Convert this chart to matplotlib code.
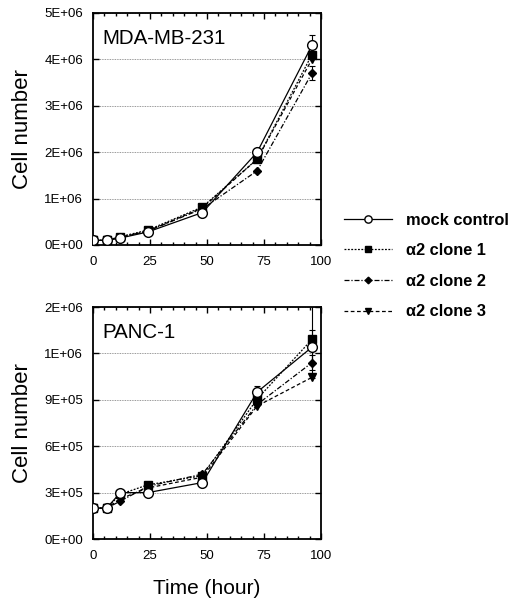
import numpy as np
import matplotlib
matplotlib.use("Agg")
import matplotlib.pyplot as plt
from matplotlib.ticker import MultipleLocator

plt.rcParams["font.family"] = ["Liberation Sans", "DejaVu Sans"]

# ---- data ----
hours = [0, 6, 12, 24, 48, 72, 96]

series_labels = ["mock control", "α2 clone 1", "α2 clone 2", "α2 clone 3"]

# MDA-MB-231 (cells)
mda_mock   = [1.0e5, 1.0e5, 1.5e5, 2.8e5, 7.0e5, 2.00e6, 4.30e6]
mda_clone1 = [1.0e5, 1.0e5, 1.8e5, 3.2e5, 8.2e5, 1.85e6, 4.10e6]
mda_clone2 = [1.0e5, 1.0e5, 1.7e5, 3.0e5, 7.8e5, 1.60e6, 3.70e6]
mda_clone3 = [1.0e5, 1.0e5, 1.6e5, 3.0e5, 8.0e5, 1.85e6, 4.00e6]
mda_mock_err   = [0, 0, 0, 0, 0, 0, 2.2e5]
mda_clone2_err = [0, 0, 0, 0, 0, 0, 1.5e5]

# PANC-1 (cells)
panc_mock   = [2.0e5, 2.0e5, 3.0e5, 3.0e5, 3.65e5, 9.5e5, 1.24e6]
panc_clone1 = [2.0e5, 2.0e5, 2.9e5, 3.5e5, 4.1e5, 9.05e5, 1.29e6]
panc_clone2 = [2.0e5, 2.0e5, 2.45e5, 3.4e5, 4.2e5, 8.7e5, 1.14e6]
panc_clone3 = [2.0e5, 2.0e5, 2.6e5, 3.3e5, 4.0e5, 8.6e5, 1.045e6]
panc_mock_err   = [0, 0, 0, 0, 0, 4.0e4, 1.1e5]
panc_clone1_err = [0, 0, 0, 0, 0, 0, 2.5e5]
panc_clone2_err = [0, 0, 0, 0, 0, 0, 5.0e4]

mda_yticks = [0, 1e6, 2e6, 3e6, 4e6, 5e6]
mda_yticklabels = ["0E+00", "1E+06", "2E+06", "3E+06", "4E+06", "5E+06"]
panc_yticks = [0, 3e5, 6e5, 9e5, 1.2e6, 1.5e6]
panc_yticklabels = ["0E+00", "3E+05", "6E+05", "9E+05", "1E+06", "2E+06"]
xticks = [0, 25, 50, 75, 100]
# --------------

styles = [
    dict(ls="-",  marker="o", mfc="white", ms=7, zorder=5),
    dict(ls=(0, (1.5, 1.2)), marker="s", mfc="black", ms=6, zorder=4),
    dict(ls=(0, (4, 1.5, 1, 1.5)), marker="D", mfc="black", ms=4.5, zorder=3),
    dict(ls=(0, (3, 2)), marker="v", mfc="black", ms=6, zorder=3),
]

fig = plt.figure(figsize=(5.15, 6.07), dpi=100)
ax_top = fig.add_axes([0.1806, 0.5964, 0.4427, 0.3822])
ax_bot = fig.add_axes([0.1806, 0.1120, 0.4427, 0.3822])


def draw_panel(ax, data, errs, yticks, yticklabels, title):
    # draw clones first so mock circles sit on top
    order = [1, 2, 3, 0]
    handles = {}
    for i in order:
        st = styles[i]
        line, = ax.plot(hours, data[i], color="black", lw=0.9, ls=st["ls"],
                        marker=st["marker"], mfc=st["mfc"], mec="black",
                        mew=1.0, ms=st["ms"], zorder=st["zorder"],
                        label=series_labels[i])
        handles[i] = line
        if errs[i] is not None:
            ax.errorbar(hours, data[i], yerr=errs[i], fmt="none", ecolor="black",
                        elinewidth=0.8, capsize=2.5, capthick=0.8, zorder=2)
    ax.set_xlim(0, 100)
    ax.set_ylim(yticks[0], yticks[-1])
    ax.set_xticks(xticks)
    ax.xaxis.set_minor_locator(MultipleLocator(5))
    ax.set_yticks(yticks)
    ax.set_yticklabels(yticklabels)
    ax.grid(axis="y", which="major", color="#777777", ls=(0, (1, 1)), lw=0.6)
    ax.set_axisbelow(True)
    ax.tick_params(which="both", direction="in", top=True, right=True,
                   labelsize=9.5, width=1.0)
    ax.tick_params(axis="y", pad=7)
    ax.tick_params(axis="x", pad=8)
    ax.tick_params(which="major", length=4)
    ax.tick_params(which="minor", length=2.5)
    for s in ax.spines.values():
        s.set_linewidth(1.3)
    ax.set_ylabel("Cell number", fontsize=16, labelpad=8)
    ax.text(0.04, 0.93, title, transform=ax.transAxes, fontsize=14.8,
            va="top", ha="left")
    return [handles[i] for i in range(4)]


handles = draw_panel(ax_top,
                     [mda_mock, mda_clone1, mda_clone2, mda_clone3],
                     [mda_mock_err, None, mda_clone2_err, None],
                     mda_yticks, mda_yticklabels, "MDA-MB-231")
draw_panel(ax_bot,
           [panc_mock, panc_clone1, panc_clone2, panc_clone3],
           [panc_mock_err, panc_clone1_err, panc_clone2_err, None],
           panc_yticks, panc_yticklabels, "PANC-1")

ax_bot.set_xlabel("Time (hour)", fontsize=15, labelpad=12)

leg = fig.legend(handles, series_labels, loc="center left",
                 bbox_to_anchor=(0.668, 0.5618), frameon=False,
                 borderpad=0, borderaxespad=0, handlelength=2.9,
                 handletextpad=0.9, labelspacing=0.95, markerscale=0.75,
                 prop=dict(size=11.8, weight="bold"))

fig.savefig("out.png", dpi=100)
